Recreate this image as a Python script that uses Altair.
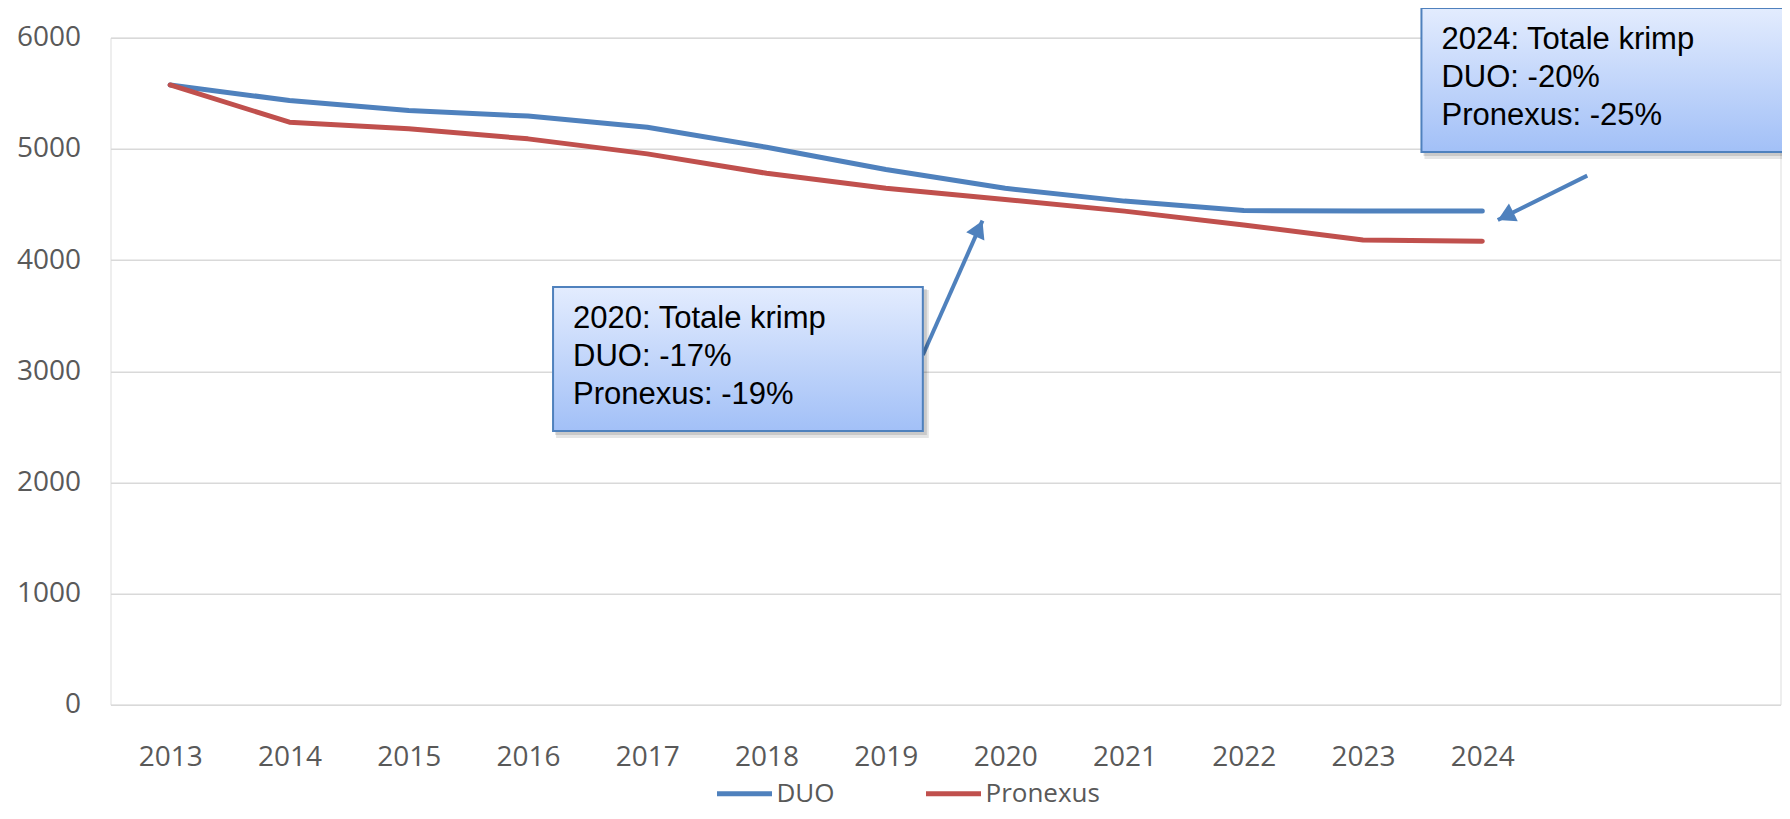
import altair as alt
import pandas as pd

# ---- data ----
years = list(range(2013, 2025))
duo = [5575, 5435, 5345, 5295, 5195, 5015, 4815, 4645, 4530, 4445, 4440, 4440]
pronexus = [5575, 5240, 5180, 5090, 4955, 4780, 4645, 4545, 4440, 4315, 4180, 4170]
series_names = ["DUO", "Pronexus"]
series_colors = ["#4f81bd", "#c0504d"]
y_ticks = [0, 1000, 2000, 3000, 4000, 5000, 6000]

# annotation callouts (data coordinates)
note_texts = [
    "2020: Totale krimp\nDUO: -17%\nPronexus: -19%",
    "2024: Totale krimp\nDUO: -20%\nPronexus: -25%",
]
note_x1 = [2016.21, 2023.49]
note_x2 = [2019.31, 2026.58]
note_ytop = [3757, 6267]
note_ybot = [2462, 4972]
arrow_tail_x = [2019.31, 2024.88]
arrow_tail_y = [3146, 4759]
arrow_tip_x = [2019.81, 2024.13]
arrow_tip_y = [4354, 4360]

# ---- tables ----
lines_df = pd.DataFrame(
    {"year": years * 2,
     "value": duo + pronexus,
     "series": ["DUO"] * len(years) + ["Pronexus"] * len(years)}
)
notes_df = pd.DataFrame(
    {"x1": note_x1, "x2": note_x2, "yt": note_ytop, "yb": note_ybot, "text": note_texts}
)
arrows_df = pd.DataFrame(
    {"tx": arrow_tail_x, "ty": arrow_tail_y, "hx": arrow_tip_x, "hy": arrow_tip_y}
)

xs = alt.Scale(domain=[2012.5, 2026.5], nice=False, zero=False)
ys = alt.Scale(domain=[0, 6000], nice=False)

AXIS_FONT = "Open Sans"
AXIS_COLOR = "#595959"

lines = alt.Chart(lines_df).mark_line(
    strokeWidth=5, strokeCap="round", strokeJoin="round"
).encode(
    x=alt.X("year:Q", scale=xs, title=None,
            axis=alt.Axis(values=years, format="d", grid=False, domain=False,
                          ticks=False, labelPadding=39, labelFont=AXIS_FONT,
                          labelFontSize=28, labelColor=AXIS_COLOR)),
    y=alt.Y("value:Q", scale=ys, title=None,
            axis=alt.Axis(values=y_ticks, format="d", grid=True, gridColor="#d9d9d9",
                          gridWidth=1.5, domain=False, ticks=False,
                          labelPadding=30, labelFont=AXIS_FONT,
                          labelFontSize=28, labelColor=AXIS_COLOR)),
    color=alt.Color("series:N",
                    scale=alt.Scale(domain=series_names, range=series_colors),
                    legend=alt.Legend(orient="none", legendX=604, legendY=726,
                                      direction="horizontal", title=None,
                                      symbolType="stroke", symbolSize=3025,
                                      symbolStrokeWidth=5, labelFont=AXIS_FONT,
                                      labelFontSize=26, labelColor=AXIS_COLOR,
                                      columnPadding=80, labelOffset=2, padding=0)),
)

base_notes = alt.Chart(notes_df)

shadow1 = base_notes.mark_rect(
    fill="#000000", opacity=0.10, xOffset=3, x2Offset=6, yOffset=3, y2Offset=7
).encode(
    x=alt.X("x1:Q", scale=xs, title=None), x2="x2:Q",
    y=alt.Y("yt:Q", scale=ys, title=None), y2="yb:Q",
)
shadow2 = base_notes.mark_rect(
    fill="#000000", opacity=0.12, xOffset=2, x2Offset=4, yOffset=2, y2Offset=4
).encode(
    x=alt.X("x1:Q", scale=xs, title=None), x2="x2:Q",
    y=alt.Y("yt:Q", scale=ys, title=None), y2="yb:Q",
)

boxes = base_notes.mark_rect(
    fill=alt.Gradient(
        gradient="linear",
        stops=[alt.GradientStop(color="#e3ecfe", offset=0),
               alt.GradientStop(color="#a2c0f7", offset=1)],
        x1=0, x2=0, y1=0, y2=1,
    ),
    stroke="#4f81bd", strokeWidth=2,
).encode(
    x=alt.X("x1:Q", scale=xs, title=None), x2="x2:Q",
    y=alt.Y("yt:Q", scale=ys, title=None), y2="yb:Q",
)

texts = base_notes.mark_text(
    align="left", baseline="alphabetic", dx=20, dy=41,
    font="Liberation Sans", fontSize=31, lineHeight=38, lineBreak="\n",
    color="#000000",
).encode(
    x=alt.X("x1:Q", scale=xs, title=None),
    y=alt.Y("yt:Q", scale=ys, title=None),
    text="text:N",
)

arrow_lines = alt.Chart(arrows_df).mark_rule(
    color="#4f81bd", strokeWidth=4
).encode(
    x=alt.X("tx:Q", scale=xs, title=None), x2="hx:Q",
    y=alt.Y("ty:Q", scale=ys, title=None), y2="hy:Q",
)

head1 = alt.Chart(arrows_df.iloc[[0]]).mark_point(
    shape="triangle-up", filled=True, size=400, opacity=1, color="#4f81bd",
    angle=24.5, xOffset=-3.6, yOffset=7.9,
).encode(
    x=alt.X("hx:Q", scale=xs, title=None),
    y=alt.Y("hy:Q", scale=ys, title=None),
)
head2 = alt.Chart(arrows_df.iloc[[1]]).mark_point(
    shape="triangle-up", filled=True, size=400, opacity=1, color="#4f81bd",
    angle=243.8, xOffset=7.8, yOffset=-3.8,
).encode(
    x=alt.X("hx:Q", scale=xs, title=None),
    y=alt.Y("hy:Q", scale=ys, title=None),
)

chart = alt.layer(
    lines, arrow_lines, head1, head2, shadow1, shadow2, boxes, texts
).properties(
    width=1670, height=667,
    autosize=alt.AutoSizeParams(type="none"),
    padding={"left": 102.5, "top": 29.7, "right": 1.5, "bottom": 106.3},
).configure_view(stroke=None).configure(background="white")

chart.save("out.html", embed_options={"renderer": "svg", "actions": False})
